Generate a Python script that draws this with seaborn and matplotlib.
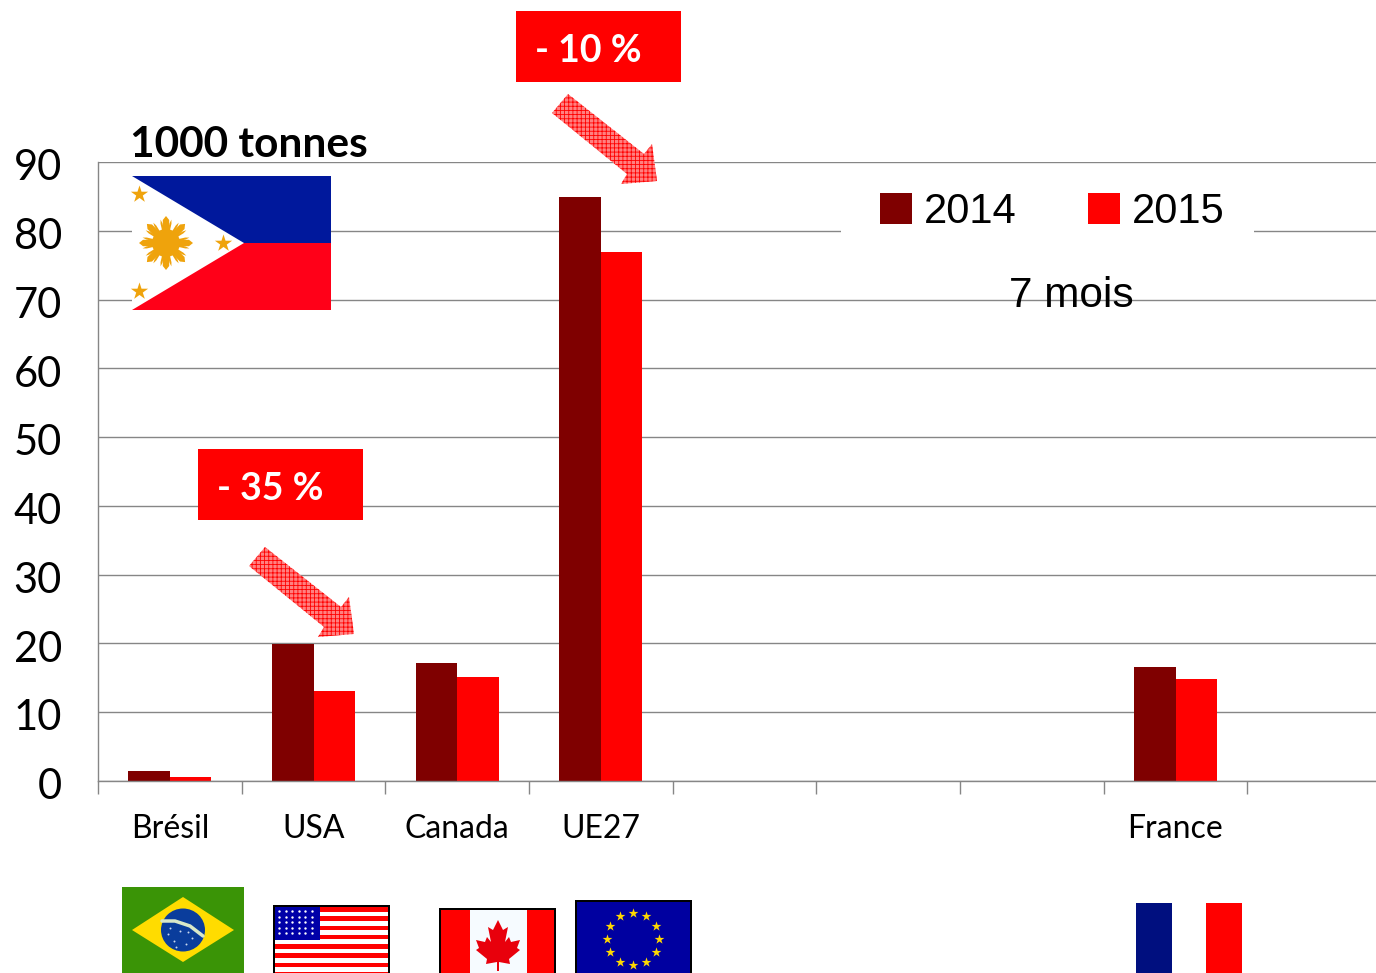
import numpy as np
import pandas as pd
import matplotlib.pyplot as plt
import seaborn as sns
from matplotlib.patches import Rectangle, Polygon, Circle, Ellipse
from matplotlib.transforms import ScaledTranslation

W, H = 1376, 973

# data (1000 tonnes, 7 months), blank slots keep the empty groups on the axis
categories = ['Brésil', 'USA', 'Canada', 'UE27', ' ', '  ', '   ', 'France', '    ']
values_2014 = [1.4, 19.9, 17.2, 84.9, None, None, None, 16.6, None]
values_2015 = [0.6, 13.1, 15.1, 76.9, None, None, None, 14.9, None]
years = ['2014', '2015']
yticks = [0, 10, 20, 30, 40, 50, 60, 70, 80, 90]

df = pd.DataFrame({
    'pays': categories * 2,
    'annee': [years[0]] * 9 + [years[1]] * 9,
    'val': values_2014 + values_2015,
})

sns.set_style('white')
plt.rcParams['font.family'] = ['Lato', 'DejaVu Sans']
plt.rcParams['text.color'] = 'black'
plt.rcParams['xtick.labelcolor'] = 'black'
plt.rcParams['ytick.labelcolor'] = 'black'
plt.rcParams['hatch.linewidth'] = 0.6

GREY = '#868686'
fig = plt.figure(figsize=(W / 100, H / 100), dpi=100)
ax = fig.add_axes([98 / W, 1 - 781 / H, 1293 / W, 619 / H])

sns.barplot(data=df, x='pays', y='val', hue='annee', order=categories,
            palette=['#7f0000', '#ff0000'], width=0.58, gap=0,
            saturation=1, errorbar=None, linewidth=0, ax=ax)
handles, labels = ax.get_legend_handles_labels()
ax.get_legend().remove()

ax.set_xlim(-0.5, 8.5)
ax.set_ylim(0, 90)
ax.set_xlabel('')
ax.set_ylabel('')
ax.set_yticks(yticks)
ax.tick_params(axis='y', length=10, width=1, color=GREY, labelsize=30, pad=16)
ax.set_xticks(np.arange(-0.5, 9, 1), minor=True)
ax.tick_params(axis='x', which='minor', length=9, width=1, color=GREY, bottom=True)
ax.tick_params(axis='x', which='major', length=0, labelsize=23, pad=24)
ax.set_axisbelow(True)
ax.grid(axis='y', color=GREY, linewidth=1)
ax.grid(axis='x', visible=False)
for s in ['top', 'right']:
    ax.spines[s].set_visible(False)
for s in ['left', 'bottom']:
    ax.spines[s].set_color(GREY)
    ax.spines[s].set_linewidth(1)

# numbers sit a little under their gridlines in the original
shift = ScaledTranslation(0, -2 / 72, fig.dpi_scale_trans)
for lab in ax.get_yticklabels():
    lab.set_transform(lab.get_transform() + shift)

# overlay in picture pixels for the pasted flags, labels and arrows
ov = fig.add_axes([0, 0, 1, 1], zorder=2)
ov.set_xlim(0, W)
ov.set_ylim(H, 0)
ov.axis('off')
ov.patch.set_alpha(0)


def rect(x0, y0, x1, y1, color, **kw):
    ov.add_patch(Rectangle((x0, y0), x1 - x0, y1 - y0, facecolor=color, edgecolor='none', **kw))


def stars(xs, ys, size, color):
    ov.scatter(xs, ys, marker='*', s=size, color=color, linewidths=0, zorder=5)


# white gap behind the legend
rect(841, 185, 1254, 240, 'white')
fig.legend(handles, labels, loc='center left', bbox_to_anchor=(880 / W, 1 - 212 / H),
           ncol=2, frameon=False, prop={'family': 'Liberation Sans', 'size': 30},
           handlelength=0.77, handleheight=0.77, handletextpad=0.29,
           columnspacing=1.7, borderpad=0, borderaxespad=0)
ov.text(1071.5, 296, '7 mois', fontsize=30.5, family='Liberation Sans', ha='center', va='center')
ov.text(130, 157, '1000 tonnes', fontsize=30.5, fontweight='bold', ha='left', va='baseline')

# red percentage labels
for x0, y0, txt in [(516, 11, '- 10 %'), (198, 449, '- 35 %')]:
    rect(x0, y0, x0 + 165, y0 + 71, '#ff0000')
    ov.text(x0 + 72, y0 + 40, txt, color='white', fontsize=27, fontweight='bold',
            ha='center', va='center')

# hatched arrows
arrow = np.array([[568, 94], [644, 154], [652, 144], [657, 181], [621, 184], [627, 174], [552, 113]])
for dx, dy in [(0, 0), (-303, 453)]:
    ov.add_patch(Polygon(arrow + [dx, dy], closed=True, facecolor='#ff8080',
                         edgecolor='#ff0000', hatch='++++', linewidth=0))

# Philippines
SUN = '#efa30c'
rect(132, 176, 331, 310, 'white')
ov.add_patch(Polygon([[132, 176], [331, 176], [331, 243], [244, 243]], facecolor='#00189c', edgecolor='none'))
ov.add_patch(Polygon([[132, 310], [331, 310], [331, 243], [244, 243]], facecolor='#ff0018', edgecolor='none'))
stars([139, 223, 139], [194, 243, 291], 170, SUN)
ov.add_patch(Circle((166, 243), 14, facecolor=SUN, edgecolor='none'))
for a in np.arange(0, 360, 45):
    for off, r1, hw in [(0, 27, 3.2), (-13, 24, 1.0), (13, 24, 1.0)]:
        t = np.radians(a + off)
        ca, sa = np.cos(t), np.sin(t)
        ov.add_patch(Polygon([[166 + 13 * ca - hw * sa, 243 + 13 * sa + hw * ca],
                              [166 + (r1 - 4) * ca - hw * sa, 243 + (r1 - 4) * sa + hw * ca],
                              [166 + r1 * ca, 243 + r1 * sa],
                              [166 + (r1 - 4) * ca + hw * sa, 243 + (r1 - 4) * sa - hw * ca],
                              [166 + 13 * ca + hw * sa, 243 + 13 * sa - hw * ca]],
                             facecolor=SUN, edgecolor='none'))

# Brazil
rect(122, 887, 244, H, '#3a9406')
ov.add_patch(Polygon([[132, 930], [183, 897], [234, 930], [183, 962]], facecolor='#ffdc00', edgecolor='none'))
ov.add_patch(Ellipse((183, 930), 44, 43, facecolor='#0a3d9c', edgecolor='none'))
ov.plot([162, 175, 190, 203], [921, 921, 926, 936], color='#d9e8c8', linewidth=2.5)
ov.scatter([168, 174, 180, 186, 192, 176, 188, 170], [934, 941, 931, 944, 938, 947, 932, 928],
           s=2, color='#c8d8f0', linewidths=0, zorder=5)

# USA
rect(273, 905, 390, H, 'black')
rect(275, 907, 388, H, 'white')
for y in np.arange(907, H, 9.3):
    rect(275, y, 388, y + 4.6, '#ff0000')
rect(275, 907, 320, 940, '#0000a8')
sx, sy = np.meshgrid(np.arange(279, 318, 6.5), np.arange(911, 938, 5.5))
ov.scatter(sx.ravel(), sy.ravel(), s=3, color='white', linewidths=0, zorder=5)

# Canada
rect(439, 908, 556, H, 'black')
rect(441, 910, 554, H, '#ff0000')
rect(470, 910, 527, H, '#f6fbff')
leaf = np.array([[0, -25], [-5, -15], [-10, -18], [-7, -3], [-11, -8], [-13, -3], [-22, -5], [-19, 3],
                 [-22, 5], [-11, 14], [-12, 19], [-1, 17], [-1, 26], [1, 26], [1, 17], [12, 19],
                 [11, 14], [22, 5], [19, 3], [22, -5], [13, -3], [11, -8], [7, -3], [10, -18], [5, -15]])
ov.add_patch(Polygon(leaf + [498, 945], facecolor='#e8000c', edgecolor='none'))

# EU
rect(575, 900, 692, H, 'black')
rect(577, 902, 690, H, '#0000a0')
ang = np.radians(np.arange(0, 360, 30))
stars(633 + 26 * np.cos(ang), 939 + 26 * np.sin(ang), 55, '#ffd800')

# France
rect(1136, 903, 1172, H, '#000f7f')
rect(1206, 903, 1242, H, '#ff0000')

fig.savefig('out.png', dpi=100)
